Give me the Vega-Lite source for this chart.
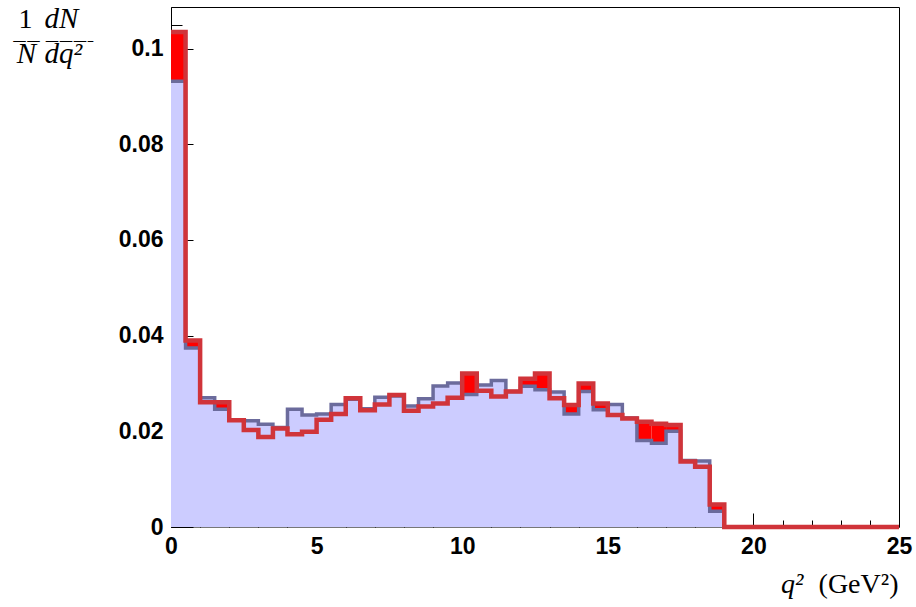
{
  "$schema": "https://vega.github.io/schema/vega-lite/v6.json",
  "width": 728,
  "height": 520,
  "autosize": "none",
  "padding": {"left": 171, "top": 7, "right": 17, "bottom": 80},
  "background": "white",
  "config": {
    "view": {"stroke": "black", "strokeWidth": 1},
    "axis": {"grid": false, "labelFlush": false, "labelOverlap": false, "tickColor": "black", "domainColor": "black", "labelColor": "black", "titleColor": "black", "titleFontWeight": "normal"}
  },
  "data": {
    "values": [
      {"lo": 0.0, "hi": 0.5, "blue": 0.0932, "red": 0.1035},
      {"lo": 0.5, "hi": 1.0, "blue": 0.0374, "red": 0.0390},
      {"lo": 1.0, "hi": 1.5, "blue": 0.0270, "red": 0.0261},
      {"lo": 1.5, "hi": 2.0, "blue": 0.0246, "red": 0.0261},
      {"lo": 2.0, "hi": 2.5, "blue": 0.0224, "red": 0.0223},
      {"lo": 2.5, "hi": 3.0, "blue": 0.0222, "red": 0.0203},
      {"lo": 3.0, "hi": 3.5, "blue": 0.0215, "red": 0.0188},
      {"lo": 3.5, "hi": 4.0, "blue": 0.0208, "red": 0.0206},
      {"lo": 4.0, "hi": 4.5, "blue": 0.0246, "red": 0.0194},
      {"lo": 4.5, "hi": 5.0, "blue": 0.0234, "red": 0.0199},
      {"lo": 5.0, "hi": 5.5, "blue": 0.0236, "red": 0.0224},
      {"lo": 5.5, "hi": 6.0, "blue": 0.0256, "red": 0.0236},
      {"lo": 6.0, "hi": 6.5, "blue": 0.0267, "red": 0.0269},
      {"lo": 6.5, "hi": 7.0, "blue": 0.0247, "red": 0.0244},
      {"lo": 7.0, "hi": 7.5, "blue": 0.0271, "red": 0.0256},
      {"lo": 7.5, "hi": 8.0, "blue": 0.0274, "red": 0.0276},
      {"lo": 8.0, "hi": 8.5, "blue": 0.0253, "red": 0.0243},
      {"lo": 8.5, "hi": 9.0, "blue": 0.0268, "red": 0.0252},
      {"lo": 9.0, "hi": 9.5, "blue": 0.0295, "red": 0.0258},
      {"lo": 9.5, "hi": 10.0, "blue": 0.0301, "red": 0.0270},
      {"lo": 10.0, "hi": 10.5, "blue": 0.0277, "red": 0.0321},
      {"lo": 10.5, "hi": 11.0, "blue": 0.0297, "red": 0.0285},
      {"lo": 11.0, "hi": 11.5, "blue": 0.0306, "red": 0.0273},
      {"lo": 11.5, "hi": 12.0, "blue": 0.0283, "red": 0.0283},
      {"lo": 12.0, "hi": 12.5, "blue": 0.0294, "red": 0.0310},
      {"lo": 12.5, "hi": 13.0, "blue": 0.0287, "red": 0.0321},
      {"lo": 13.0, "hi": 13.5, "blue": 0.0282, "red": 0.0269},
      {"lo": 13.5, "hi": 14.0, "blue": 0.0236, "red": 0.0255},
      {"lo": 14.0, "hi": 14.5, "blue": 0.0283, "red": 0.0300},
      {"lo": 14.5, "hi": 15.0, "blue": 0.0245, "red": 0.0258},
      {"lo": 15.0, "hi": 15.5, "blue": 0.0256, "red": 0.0234},
      {"lo": 15.5, "hi": 16.0, "blue": 0.0228, "red": 0.0227},
      {"lo": 16.0, "hi": 16.5, "blue": 0.0181, "red": 0.0220},
      {"lo": 16.5, "hi": 17.0, "blue": 0.0175, "red": 0.0216},
      {"lo": 17.0, "hi": 17.5, "blue": 0.0200, "red": 0.0213},
      {"lo": 17.5, "hi": 18.0, "blue": 0.0139, "red": 0.0137},
      {"lo": 18.0, "hi": 18.5, "blue": 0.0138, "red": 0.0126},
      {"lo": 18.5, "hi": 19.0, "blue": 0.0033, "red": 0.0047},
      {"lo": 19.0, "hi": 19.5, "blue": 0, "red": 0},
      {"lo": 19.5, "hi": 20.0, "blue": 0, "red": 0},
      {"lo": 20.0, "hi": 20.5, "blue": 0, "red": 0},
      {"lo": 20.5, "hi": 21.0, "blue": 0, "red": 0},
      {"lo": 21.0, "hi": 21.5, "blue": 0, "red": 0},
      {"lo": 21.5, "hi": 22.0, "blue": 0, "red": 0},
      {"lo": 22.0, "hi": 22.5, "blue": 0, "red": 0},
      {"lo": 22.5, "hi": 23.0, "blue": 0, "red": 0},
      {"lo": 23.0, "hi": 23.5, "blue": 0, "red": 0},
      {"lo": 23.5, "hi": 24.0, "blue": 0, "red": 0},
      {"lo": 24.0, "hi": 24.5, "blue": 0, "red": 0},
      {"lo": 24.5, "hi": 25.0, "blue": 0, "red": 0},
      {"lo": 25.0, "hi": 25.0, "blue": 0, "red": 0}
    ]
  },
  "layer": [
    {
      "mark": {"type": "area", "interpolate": "step-after", "color": "#ccccff"},
      "encoding": {
        "x": {"field": "lo", "type": "quantitative", "scale": {"domain": [0, 25], "nice": false},
          "axis": {"orient": "bottom", "values": [0, 5, 10, 15, 20, 25], "tickSize": -14, "labelPadding": 22,
            "labelFont": "Liberation Sans", "labelFontWeight": "bold", "labelFontSize": 23,
            "domainColor": "#777777",
            "title": "q²", "titleFont": "Liberation Serif", "titleFontStyle": "italic", "titleFontSize": 28,
            "titleX": 632, "titleY": 65, "titleAlign": "right", "titleBaseline": "alphabetic", "titleAnchor": null}},
        "y": {"field": "blue", "type": "quantitative", "scale": {"domain": [0, 0.1087], "nice": false, "zero": true},
          "axis": {"orient": "left", "values": [0, 0.02, 0.04, 0.06, 0.08, 0.1], "format": "~g", "tickSize": -22, "labelPadding": 30,
            "labelFont": "Liberation Sans", "labelFontWeight": "bold", "labelFontSize": 23,
            "title": ["dN", "dq²"], "titleFont": "Liberation Serif", "titleFontStyle": "italic", "titleFontSize": 29,
            "titleAngle": 0, "titleX": -127, "titleY": 20, "titleAlign": "left", "titleBaseline": "alphabetic", "titleLineHeight": 35}}
      }
    },
    {
      "transform": [{"filter": "datum.red > datum.blue"}],
      "mark": {"type": "rect", "color": "#ff0000"},
      "encoding": {
        "x": {"field": "lo", "type": "quantitative",
          "axis": {"orient": "bottom", "values": [1, 2, 3, 4, 6, 7, 8, 9, 11, 12, 13, 14, 16, 17, 18, 19, 21, 22, 23, 24], "tickSize": -7, "labels": false, "domain": false, "title": null}},
        "x2": {"field": "hi"},
        "y": {"field": "blue", "type": "quantitative",
          "axis": {"orient": "left", "values": [0.005, 0.01, 0.015, 0.025, 0.03, 0.035, 0.045, 0.05, 0.055, 0.065, 0.07, 0.075, 0.085, 0.09, 0.095, 0.105], "tickSize": -11, "labels": false, "domain": false,
            "title": "—— ———–", "titleFont": "DejaVu Sans", "titleFontStyle": "normal", "titleFontSize": 14,
            "titleAngle": 0, "titleX": -159, "titleY": 37, "titleAlign": "left", "titleBaseline": "alphabetic"}},
        "y2": {"field": "red"}
      }
    },
    {
      "mark": {"type": "line", "interpolate": "step-after", "color": "#6b6b9c", "strokeWidth": 3.5},
      "encoding": {
        "x": {"field": "lo", "type": "quantitative",
          "axis": {"orient": "bottom", "labels": false, "ticks": false, "domain": false,
            "title": "(GeV²)", "titleFont": "Liberation Serif", "titleFontStyle": "normal", "titleFontSize": 28,
            "titleX": 727, "titleY": 65, "titleAlign": "right", "titleBaseline": "alphabetic", "titleAnchor": null}},
        "y": {"field": "blue", "type": "quantitative",
          "axis": {"orient": "left", "labels": false, "ticks": false, "domain": false,
            "title": "1", "titleFont": "Liberation Serif", "titleFontStyle": "normal", "titleFontSize": 28,
            "titleAngle": 0, "titleX": -146, "titleY": 20, "titleAlign": "center", "titleBaseline": "alphabetic"}}
      }
    },
    {
      "mark": {"type": "line", "interpolate": "step-after", "color": "#d0343a", "strokeWidth": 4.5},
      "encoding": {
        "x": {"field": "lo", "type": "quantitative", "axis": null},
        "y": {"field": "red", "type": "quantitative",
          "axis": {"orient": "left", "labels": false, "ticks": false, "domain": false,
            "title": "N", "titleFont": "Liberation Serif", "titleFontStyle": "italic", "titleFontSize": 29,
            "titleAngle": 0, "titleX": -145, "titleY": 55, "titleAlign": "center", "titleBaseline": "alphabetic"}}
      }
    }
  ],
  "resolve": {"axis": {"x": "independent", "y": "independent"}}
}
